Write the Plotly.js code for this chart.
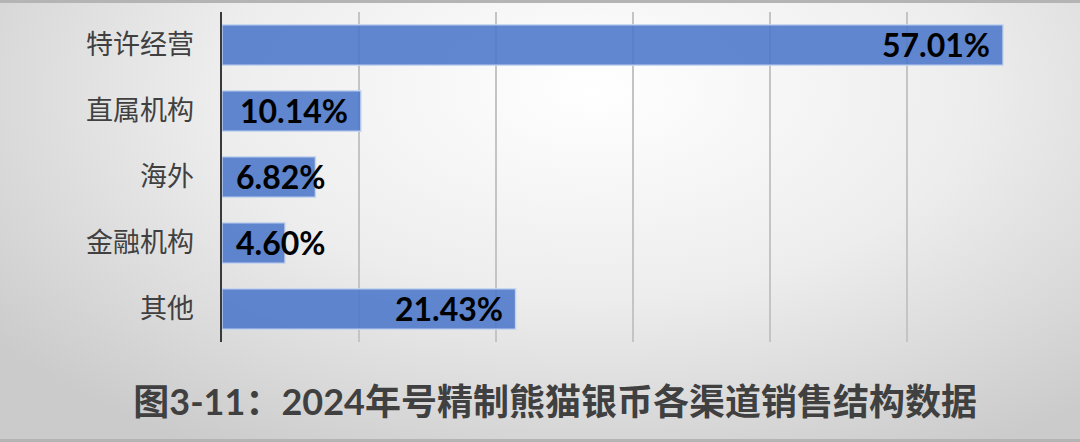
<!DOCTYPE html>
<html>
<head>
<meta charset="utf-8">
<script src="https://cdn.plot.ly/plotly-3.0.1.min.js"></script>
<style>
  html, body { margin: 0; padding: 0; }
  #wrap {
    width: 1080px; height: 442px; box-sizing: border-box;
    border-top: 3px solid #b4b4b4; border-bottom: 3px solid #b4b4b4;
    background: radial-gradient(ellipse 70% 95% at 55% 20%, #ffffff 0%, #ededed 50%, #cbcbcb 100%);
  }
  #chart { width: 1080px; height: 436px; }
</style>
</head>
<body>
<div id="wrap"><div id="chart"></div></div>
<script>
// 销售渠道及占比
var channels = ["特许经营", "直属机构", "海外", "金融机构", "其他"];
var shares = [57.01, 10.14, 6.82, 4.60, 21.43];
var shareLabels = ["57.01%", "10.14%", "6.82%", "4.60%", "21.43%"];

var xMax = 60;
var plotW = 1080 - 222 - 36;
var labelFont = { family: "Lato, 'Noto Sans', sans-serif", size: 32, color: "#000000", weight: "bold" };

// labels sit at the bar end; short bars get them pushed right off the axis
var labels = channels.map(function (c, i) {
  var barPx = shares[i] / xMax * plotW;
  var fits = barPx > shareLabels[i].length * 19 + 20;
  return {
    x: fits ? shares[i] : 0,
    y: c,
    xref: "x", yref: "y",
    text: shareLabels[i],
    showarrow: false,
    xanchor: fits ? "right" : "left",
    yanchor: "middle",
    xshift: fits ? -11 : 12,
    yshift: 1,
    font: labelFont
  };
});

var data = [{
  type: "bar",
  orientation: "h",
  y: channels,
  x: shares,
  marker: { color: "rgba(74,118,200,0.88)", line: { color: "rgba(200,215,240,0.9)", width: 1.5 } },
  hoverinfo: "none"
}];

var layout = {
  width: 1080, height: 436,
  margin: { l: 222, r: 36, t: 9, b: 97 },
  paper_bgcolor: "rgba(0,0,0,0)",
  plot_bgcolor: "rgba(0,0,0,0)",
  showlegend: false,
  bargap: 0.39,
  annotations: labels,
  xaxis: {
    range: [0, xMax], dtick: 10,
    showgrid: true, gridcolor: "#c4c4c4", gridwidth: 1.5,
    showticklabels: false, zeroline: false, showline: false, fixedrange: true
  },
  yaxis: {
    autorange: "reversed",
    showline: true, linecolor: "#3a3a3a", linewidth: 2.5,
    ticks: "", ticklabelstandoff: 20,
    tickfont: { family: "'Noto Sans CJK SC', sans-serif", size: 27, color: "#404040" },
    showgrid: false, zeroline: false, fixedrange: true
  },
  title: {
    text: "图3-11：2024年号精制熊猫银币各渠道销售结构数据",
    font: { family: "Lato, 'Noto Sans CJK SC', sans-serif", size: 36, color: "#404040", weight: "bold" },
    xref: "container", x: 0.514, xanchor: "center",
    yref: "container", y: 0.083, yanchor: "middle"
  }
};

Plotly.newPlot("chart", data, layout, { displayModeBar: false, staticPlot: true });
</script>
</body>
</html>
